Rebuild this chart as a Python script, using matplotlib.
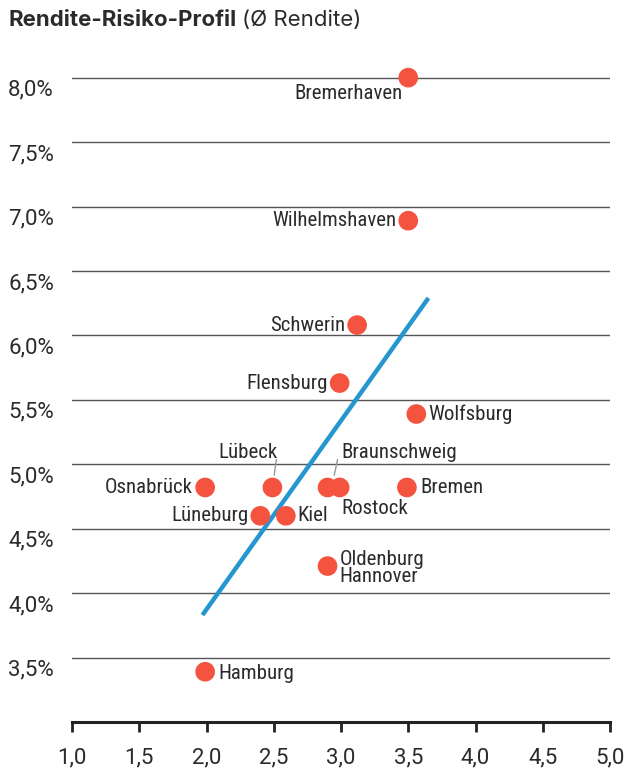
import matplotlib
matplotlib.use('Agg')
import matplotlib.pyplot as plt
from matplotlib.transforms import ScaledTranslation

# data
cities = ['Bremerhaven', 'Wilhelmshaven', 'Schwerin', 'Flensburg', 'Wolfsburg',
          'Osnabrück', 'Lübeck', 'Braunschweig', 'Rostock', 'Bremen',
          'Lüneburg', 'Kiel', 'Oldenburg\nHannover', 'Hamburg']
risk = [3.50, 3.50, 3.12, 2.99, 3.56, 1.99, 2.49, 2.90, 2.99, 3.49, 2.40, 2.59, 2.90, 1.99]
rendite = [8.00, 6.89, 6.08, 5.63, 5.39, 4.82, 4.82, 4.82, 4.82, 4.82, 4.60, 4.60, 4.21, 3.39]

trend_x = [1.97, 3.65]
trend_y = [3.83, 6.29]

x_ticks = [1.0, 1.5, 2.0, 2.5, 3.0, 3.5, 4.0, 4.5, 5.0]
y_ticks = [3.5, 4.0, 4.5, 5.0, 5.5, 6.0, 6.5, 7.0, 7.5, 8.0]

# label placement (offset in pixels, alignment)
label_pos = {
    'Bremerhaven': (-6, -16, 'right'),
    'Wilhelmshaven': (-12, 0, 'right'),
    'Schwerin': (-12, 0, 'right'),
    'Flensburg': (-12, 0, 'right'),
    'Wolfsburg': (12, 0, 'left'),
    'Osnabrück': (-12, 0, 'right'),
    'Lübeck': (-24, 35, 'center'),
    'Braunschweig': (14, 35, 'left'),
    'Rostock': (2, -21, 'left'),
    'Bremen': (13, 0, 'left'),
    'Lüneburg': (-12, 0, 'right'),
    'Kiel': (12, 0, 'left'),
    'Oldenburg\nHannover': (12, -2, 'left'),
    'Hamburg': (13, -2, 'left'),
}

label_font = ['Roboto Condensed', 'DejaVu Sans']
tick_font = ['Roboto', 'DejaVu Sans']
dot_color = '#f4533f'
line_color = '#2596cf'
text_color = '#2b2b2b'

fig = plt.figure(figsize=(6.43, 7.80), dpi=100)
ax = fig.add_axes([72 / 643, (780 - 722) / 780, (610 - 72) / 643, (722 - 39) / 780])

ax.set_xlim(1.0, 5.0)
ax.set_ylim(3.0, 8.3)

for yv in y_ticks:
    ax.axhline(yv, color='#555555', linewidth=1.0, zorder=1)

ax.plot(trend_x, trend_y, color=line_color, linewidth=3.2, solid_capstyle='butt', zorder=3)
ax.scatter(risk, rendite, s=200, color=dot_color, edgecolors='none', zorder=4)

for name, xv, yv in zip(cities, risk, rendite):
    dx, dy, ha = label_pos[name]
    ax.annotate(name, (xv, yv), xytext=(dx, dy), textcoords='offset pixels',
                ha=ha, va='center', fontsize=15, family=label_font,
                color=text_color, linespacing=0.92, zorder=5)

# leader lines for Lübeck and Braunschweig
ax.annotate('', (2.49, 4.82), xytext=(4, 28), textcoords='offset pixels',
            arrowprops=dict(arrowstyle='-', color='#999999', linewidth=1,
                            shrinkA=0, shrinkB=9))
ax.annotate('', (2.93, 4.82), xytext=(6, 28), textcoords='offset pixels',
            arrowprops=dict(arrowstyle='-', color='#999999', linewidth=1,
                            shrinkA=0, shrinkB=9))

for s in ['top', 'right', 'left']:
    ax.spines[s].set_visible(False)
ax.spines['bottom'].set_linewidth(2.2)
ax.spines['bottom'].set_color('#222222')

ax.set_xticks(x_ticks)
ax.set_xticklabels([f'{v:.1f}'.replace('.', ',') for v in x_ticks],
                   fontsize=16, family=tick_font, color=text_color)
ax.tick_params(axis='x', length=7, width=2, color='#222222', pad=11)

ax.set_yticks(y_ticks)
ax.set_yticklabels([f'{v:.1f}%'.replace('.', ',') for v in y_ticks],
                   fontsize=16, family=tick_font, color=text_color)
ax.tick_params(axis='y', length=0, pad=13)
# the percent labels sit just below their gridline
for lbl in ax.get_yticklabels():
    lbl.set_transform(lbl.get_transform() + ScaledTranslation(0, -10 / 100, fig.dpi_scale_trans))

fig.text(8 / 643, 1 - 20 / 780, 'Rendite-Risiko-Profil', fontsize=16,
         fontweight='bold', family='Inter', color=text_color, va='center')
fig.text(242 / 643, 1 - 20 / 780, '(Ø Rendite)', fontsize=16,
         family='Inter', color=text_color, va='center')

fig.savefig('out.png', dpi=100)
